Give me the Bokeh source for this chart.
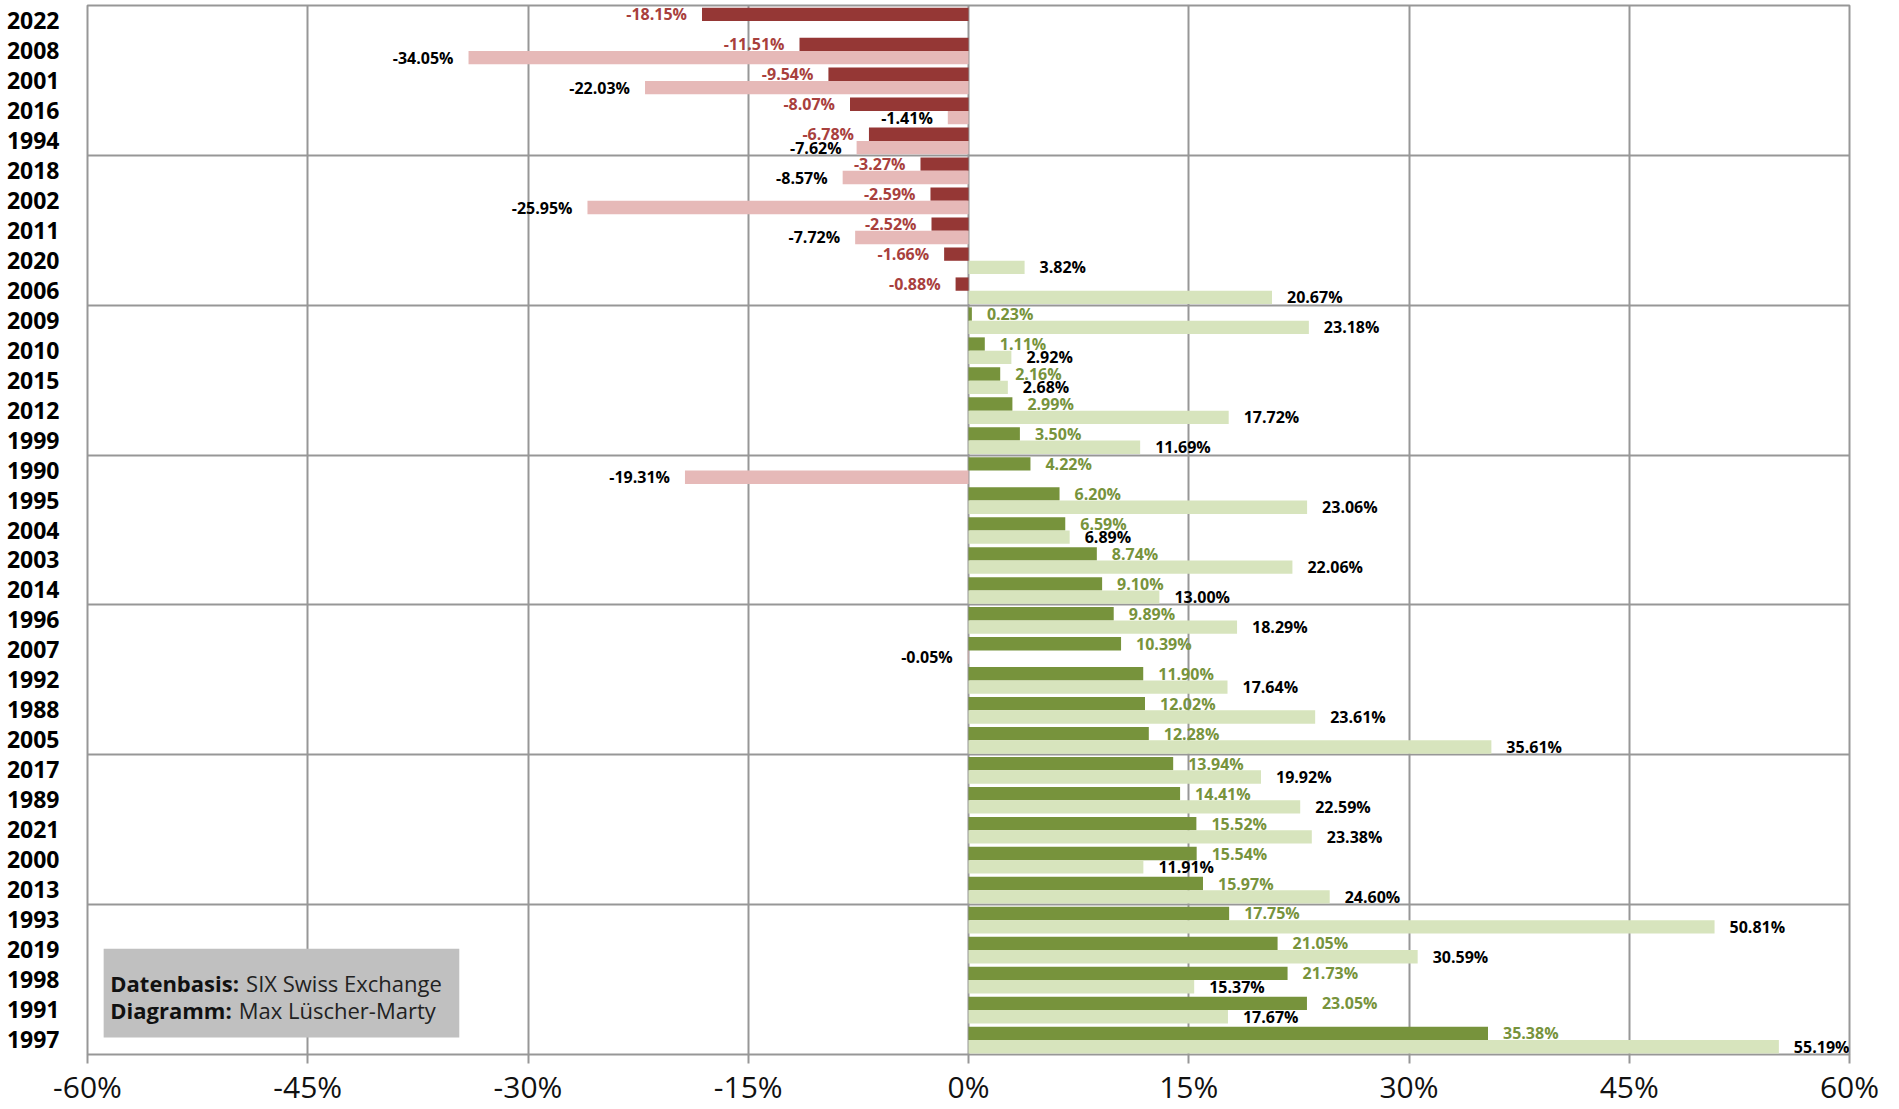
from bokeh.plotting import figure
from bokeh.models import Range1d, FixedTicker, PrintfTickFormatter, ColumnDataSource, BoxAnnotation, Label
from bokeh.transform import dodge
from bokeh.embed import file_html
from bokeh.resources import INLINE
from bokeh.core.properties import value

# ---- data ----
years = ["2022", "2008", "2001", "2016", "1994", "2018", "2002", "2011", "2020", "2006",
         "2009", "2010", "2015", "2012", "1999", "1990", "1995", "2004", "2003", "2014",
         "1996", "2007", "1992", "1988", "2005", "2017", "1989", "2021", "2000", "2013",
         "1993", "2019", "1998", "1991", "1997"]
series_dark = [-18.15, -11.51, -9.54, -8.07, -6.78, -3.27, -2.59, -2.52, -1.66, -0.88,
               0.23, 1.11, 2.16, 2.99, 3.50, 4.22, 6.20, 6.59, 8.74, 9.10,
               9.89, 10.39, 11.90, 12.02, 12.28, 13.94, 14.41, 15.52, 15.54, 15.97,
               17.75, 21.05, 21.73, 23.05, 35.38]
series_light = [None, -34.05, -22.03, -1.41, -7.62, -8.57, -25.95, -7.72, 3.82, 20.67,
                23.18, 2.92, 2.68, 17.72, 11.69, -19.31, 23.06, 6.89, 22.06, 13.00,
                18.29, -0.05, 17.64, 23.61, 35.61, 19.92, 22.59, 23.38, 11.91, 24.60,
                50.81, 30.59, 15.37, 17.67, 55.19]
x_ticks = [-60, -45, -30, -15, 0, 15, 30, 45, 60]

FONT = "Open Sans"
GRID = "#979797"
DARK_NEG, DARK_POS = "#953735", "#77933C"
LIGHT_NEG, LIGHT_POS = "#E6B9B8", "#D7E4BD"
LBL_NEG, LBL_POS = "#A8403D", "#77933C"

n = len(years)
ypos = list(range(n))

p = figure(width=1890, height=1109, output_backend="svg", toolbar_location=None,
           x_range=Range1d(-60, 60), y_range=Range1d(n - 0.5, -0.5),
           min_border_left=87, min_border_right=41, min_border_top=5, min_border_bottom=50)
p.background_fill_color = "white"
p.border_fill_color = "white"
p.outline_line_color = GRID
p.outline_line_width = 2

# grids
p.xgrid.ticker = FixedTicker(ticks=x_ticks)
p.xgrid.grid_line_color = GRID
p.xgrid.grid_line_width = 2
p.ygrid.ticker = FixedTicker(ticks=[k - 0.5 for k in range(5, n, 5)])
p.ygrid.grid_line_color = GRID
p.ygrid.grid_line_width = 2

# x axis
p.xaxis.ticker = FixedTicker(ticks=x_ticks)
p.xaxis.formatter = PrintfTickFormatter(format="%d%%")
p.xaxis.axis_line_color = None
p.xaxis.major_tick_line_color = GRID
p.xaxis.major_tick_line_width = 2
p.xaxis.major_tick_in = 0
p.xaxis.major_tick_out = 9
p.xaxis.minor_tick_line_color = None
p.xaxis.major_label_text_font = FONT
p.xaxis.major_label_text_font_size = "30px"
p.xaxis.major_label_text_color = "#111111"
p.xaxis.major_label_text_line_height = 1.0
p.xaxis.major_label_standoff = 2

# y axis (years)
p.yaxis.ticker = FixedTicker(ticks=ypos)
p.yaxis.major_label_overrides = {i: y for i, y in enumerate(years)}
p.yaxis.axis_line_color = None
p.yaxis.major_tick_line_color = None
p.yaxis.minor_tick_line_color = None
p.yaxis.major_label_text_font = FONT
p.yaxis.major_label_text_font_style = "bold"
p.yaxis.major_label_text_font_size = "23px"
p.yaxis.major_label_text_color = "#000000"
p.yaxis.major_label_standoff = 22

# bars
dark_src = ColumnDataSource(dict(
    y=ypos, v=series_dark,
    c=[DARK_NEG if v < 0 else DARK_POS for v in series_dark]))
li = [i for i, v in enumerate(series_light) if v is not None]
light_src = ColumnDataSource(dict(
    y=li, v=[series_light[i] for i in li],
    c=[LIGHT_NEG if series_light[i] < 0 else LIGHT_POS for i in li]))

BAR_H = 0.445
DARK_OFF, LIGHT_OFF = -0.205, 0.24
p.hbar(y=dodge("y", DARK_OFF, range=p.y_range), left=0, right="v", height=BAR_H,
       source=dark_src, fill_color="c", line_color=None)
p.hbar(y=dodge("y", LIGHT_OFF, range=p.y_range), left=0, right="v", height=BAR_H,
       source=light_src, fill_color="c", line_color=None)

# value labels
def label_src(idx, vals, neg):
    sel = [(i, v) for i, v in zip(idx, vals) if v is not None and ((v < 0) == neg)]
    return ColumnDataSource(dict(y=[s[0] for s in sel], v=[s[1] for s in sel],
                                 t=[f"{s[1]:.2f}%" for s in sel]))

for vals, off, is_dark in ((series_dark, DARK_OFF, True), (series_light, LIGHT_OFF, False)):
    for neg in (True, False):
        src = label_src(ypos, vals, neg)
        if is_dark:
            col = LBL_NEG if neg else LBL_POS
        else:
            col = "#000000"
        p.text(x="v", y=dodge("y", off, range=p.y_range), text="t", source=src,
               x_offset=-15 if neg else 15, text_align="right" if neg else "left",
               text_baseline="middle", text_font=value(FONT), text_font_style="bold",
               text_font_size="16px", text_color=col)

# source box
box = BoxAnnotation(left=-58.9, right=-34.68, top=30.97, bottom=33.93,
                    fill_color="#C0C0C0", fill_alpha=1.0, line_color=None)
p.add_layout(box)
rows = [("Datenbasis:", "SIX Swiss Exchange", 32.1, -49.2),
        ("Diagramm:", "Max Lüscher-Marty", 33.03, -49.7)]
for bold, normal, yy, x2 in rows:
    p.add_layout(Label(x=-58.45, y=yy, text=bold, text_font=FONT, text_font_style="bold",
                       text_font_size="22px", text_color="#111111", text_baseline="middle"))
    p.add_layout(Label(x=x2, y=yy, text=normal, text_font=FONT,
                       text_font_size="22px", text_color="#222222", text_baseline="middle"))

open("out.html", "w").write(file_html(p, INLINE))
